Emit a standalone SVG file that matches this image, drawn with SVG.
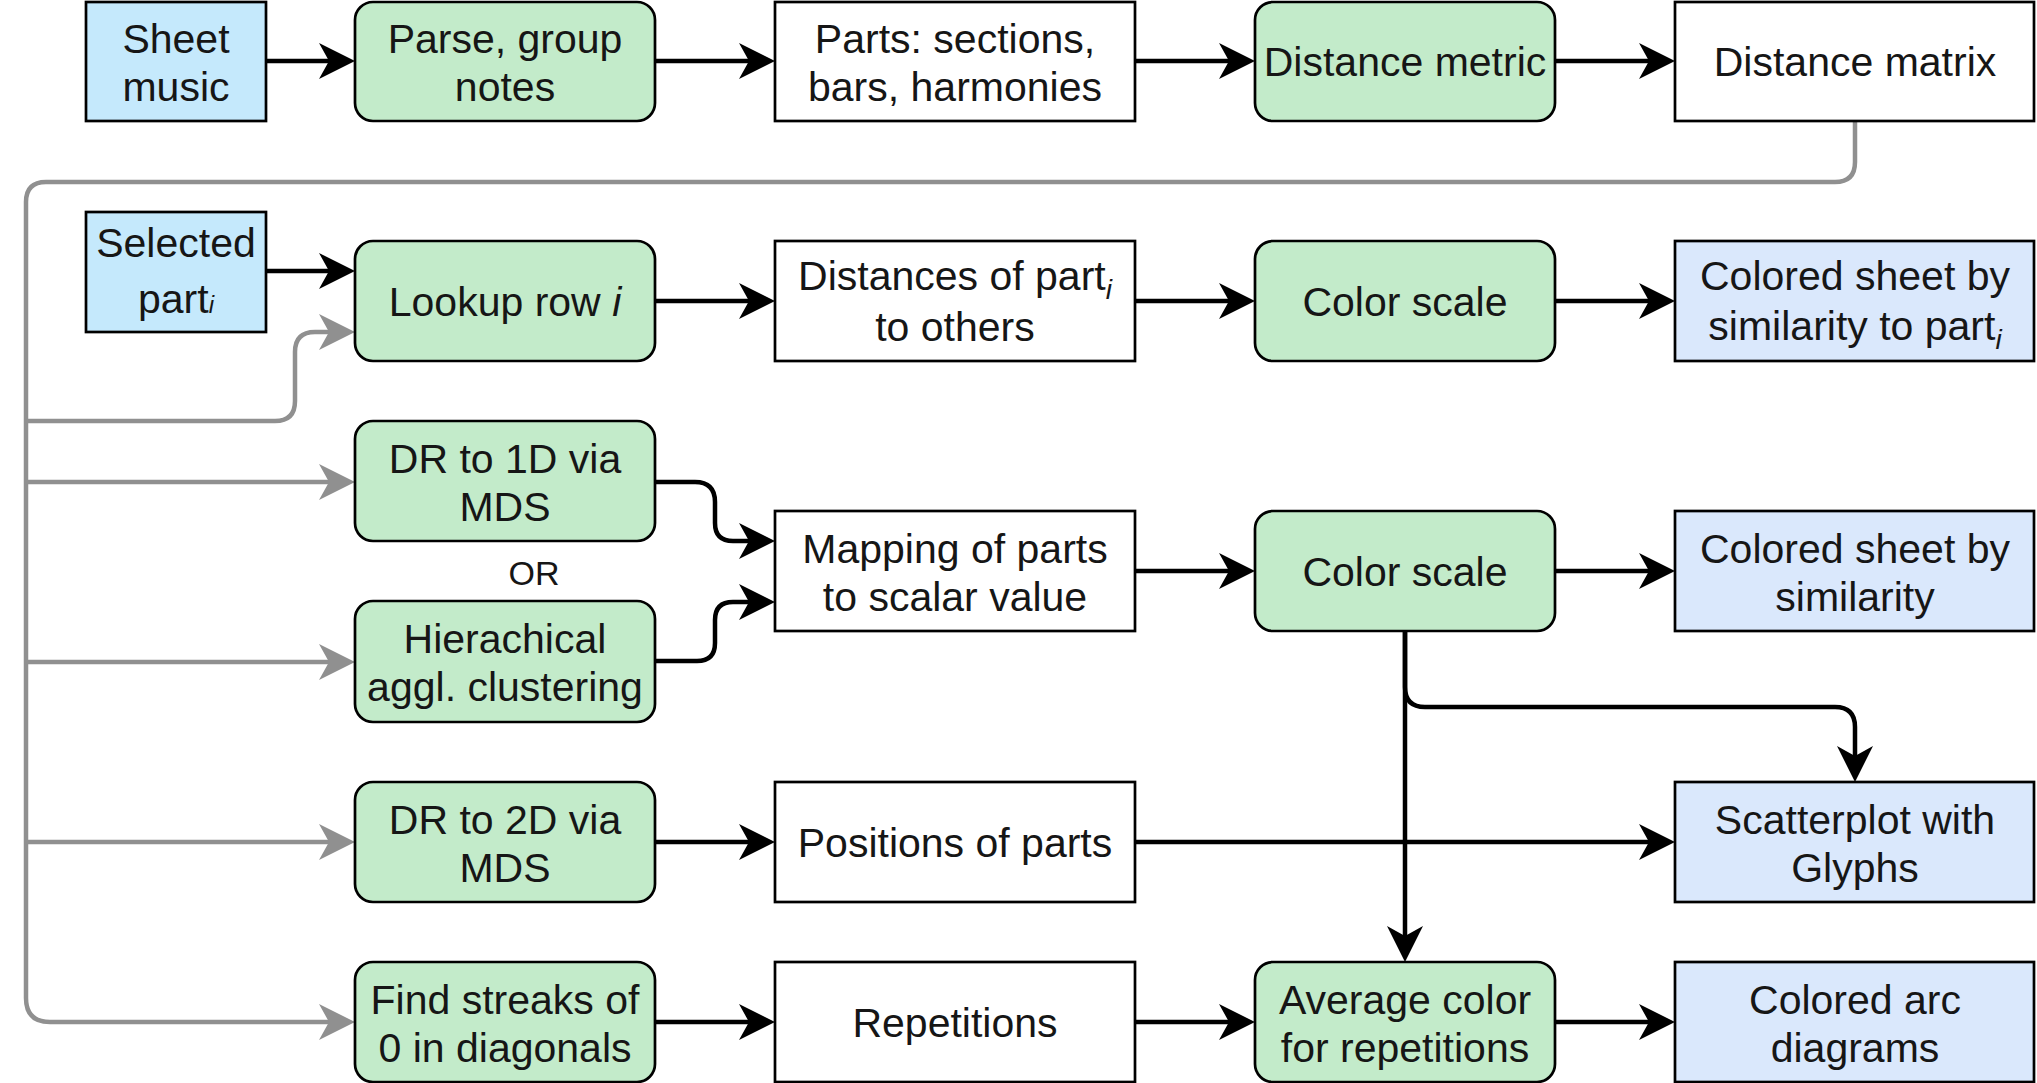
<svg xmlns="http://www.w3.org/2000/svg" width="2037" height="1083" viewBox="0 0 2037 1083">
<style>
.box{stroke:#000;stroke-width:2.7}
.in{fill:#c5e9fc}
.op{fill:#c3ebca}
.dt{fill:#ffffff}
.out{fill:#dae8fc}
text{font-family:"Liberation Sans",Arial,sans-serif;font-size:41px;fill:#161616;text-anchor:middle}
.or{font-size:34px}
.blk{fill:none;stroke:#000;stroke-width:4.5;marker-end:url(#ah)}
.gry{fill:none;stroke:#909090;stroke-width:4.5}
.gra{marker-end:url(#ahg)}
</style>
<defs>
<marker id="ah" viewBox="0 0 36 36" refX="16" refY="18" markerWidth="36" markerHeight="36" markerUnits="userSpaceOnUse" orient="auto">
<path d="M0,0 L36,18 L0,36 L10,18 Z" fill="#000"/>
</marker>
<marker id="ahg" viewBox="0 0 36 36" refX="16" refY="18" markerWidth="36" markerHeight="36" markerUnits="userSpaceOnUse" orient="auto">
<path d="M0,0 L36,18 L0,36 L10,18 Z" fill="#909090"/>
</marker>
</defs>
<rect width="2037" height="1083" fill="#ffffff"/>

<g id="connectors">
<path class="gry gra" d="M1855,121 V162 Q1855,182 1835,182 H46 Q26,182 26,202 V998 Q26,1022 50,1022 H335"/>
<path class="gry gra" d="M26,421 H275 Q295,421 295,401 V352 Q295,332 315,332 H335"/>
<path class="gry gra" d="M26,482 H335"/>
<path class="gry gra" d="M26,662 H335"/>
<path class="gry gra" d="M26,842 H335"/>

<path class="blk" d="M266,61 H335"/>
<path class="blk" d="M655,61 H755"/>
<path class="blk" d="M1135,61 H1235"/>
<path class="blk" d="M1555,61 H1655"/>

<path class="blk" d="M266,271 H335"/>
<path class="blk" d="M655,301 H755"/>
<path class="blk" d="M1135,301 H1235"/>
<path class="blk" d="M1555,301 H1655"/>

<path class="blk" d="M655,482 H695 Q715,482 715,502 V523 Q715,541 733,541 H755"/>
<path class="blk" d="M655,661 H697 Q715,661 715,643 V620 Q715,602 733,602 H755"/>
<path class="blk" d="M1135,571 H1235"/>
<path class="blk" d="M1555,571 H1655"/>

<path class="blk" d="M1405,631 V942"/>
<path class="blk" d="M1405,631 V687 Q1405,707 1425,707 H1835 Q1855,707 1855,727 V762"/>

<path class="blk" d="M655,842 H755"/>
<path class="blk" d="M1135,842 H1655"/>

<path class="blk" d="M655,1022 H755"/>
<path class="blk" d="M1135,1022 H1235"/>
<path class="blk" d="M1555,1022 H1655"/>
</g>

<g id="sheet-music"><rect class="box in" x="86" y="2" width="180" height="119"/><text x="176" y="53">Sheet</text><text x="176" y="101">music</text></g>
<g id="parse"><rect class="box op" x="355" y="2" width="300" height="119" rx="18"/><text x="505" y="53">Parse, group</text><text x="505" y="101">notes</text></g>
<g id="parts"><rect class="box dt" x="775" y="2" width="360" height="119"/><text x="955" y="53">Parts: sections,</text><text x="955" y="101">bars, harmonies</text></g>
<g id="distance-metric"><rect class="box op" x="1255" y="2" width="300" height="119" rx="18"/><text x="1405" y="76">Distance metric</text></g>
<g id="distance-matrix"><rect class="box dt" x="1675" y="2" width="359" height="119"/><text x="1855" y="76">Distance matrix</text></g>

<g id="selected-part"><rect class="box in" x="86" y="212" width="180" height="120"/><text x="176" y="257">Selected</text><text x="176" y="313">part<tspan font-style="italic" font-size="24">i</tspan></text></g>
<g id="lookup-row"><rect class="box op" x="355" y="241" width="300" height="120" rx="18"/><text x="505" y="316">Lookup row <tspan font-style="italic">i</tspan></text></g>
<g id="distances"><rect class="box dt" x="775" y="241" width="360" height="120"/><text x="955" y="290">Distances of part<tspan font-style="italic" font-size="28" dy="9">i</tspan></text><text x="955" y="341">to others</text></g>
<g id="color-scale-1"><rect class="box op" x="1255" y="241" width="300" height="120" rx="18"/><text x="1405" y="316">Color scale</text></g>
<g id="colored-sheet-part"><rect class="box out" x="1675" y="241" width="359" height="120"/><text x="1855" y="290">Colored sheet by</text><text x="1855" y="340">similarity to part<tspan font-style="italic" font-size="28" dy="9">i</tspan></text></g>

<g id="dr-1d"><rect class="box op" x="355" y="421" width="300" height="120" rx="18"/><text x="505" y="473">DR to 1D via</text><text x="505" y="521">MDS</text></g>
<g id="or-label"><text class="or" x="534" y="585">OR</text></g>
<g id="hierarchical"><rect class="box op" x="355" y="601" width="300" height="121" rx="18"/><text x="505" y="653">Hierachical</text><text x="505" y="701">aggl. clustering</text></g>
<g id="mapping"><rect class="box dt" x="775" y="511" width="360" height="120"/><text x="955" y="563">Mapping of parts</text><text x="955" y="611">to scalar value</text></g>
<g id="color-scale-2"><rect class="box op" x="1255" y="511" width="300" height="120" rx="18"/><text x="1405" y="586">Color scale</text></g>
<g id="colored-sheet"><rect class="box out" x="1675" y="511" width="359" height="120"/><text x="1855" y="563">Colored sheet by</text><text x="1855" y="611">similarity</text></g>

<g id="dr-2d"><rect class="box op" x="355" y="782" width="300" height="120" rx="18"/><text x="505" y="834">DR to 2D via</text><text x="505" y="882">MDS</text></g>
<g id="positions"><rect class="box dt" x="775" y="782" width="360" height="120"/><text x="955" y="857">Positions of parts</text></g>
<g id="scatterplot"><rect class="box out" x="1675" y="782" width="359" height="120"/><text x="1855" y="834">Scatterplot with</text><text x="1855" y="882">Glyphs</text></g>

<g id="find-streaks"><rect class="box op" x="355" y="962" width="300" height="120" rx="18"/><text x="505" y="1014">Find streaks of</text><text x="505" y="1062">0 in diagonals</text></g>
<g id="repetitions"><rect class="box dt" x="775" y="962" width="360" height="120"/><text x="955" y="1037">Repetitions</text></g>
<g id="average-color"><rect class="box op" x="1255" y="962" width="300" height="120" rx="18"/><text x="1405" y="1014">Average color</text><text x="1405" y="1062">for repetitions</text></g>
<g id="arc-diagrams"><rect class="box out" x="1675" y="962" width="359" height="120"/><text x="1855" y="1014">Colored arc</text><text x="1855" y="1062">diagrams</text></g>
</svg>
